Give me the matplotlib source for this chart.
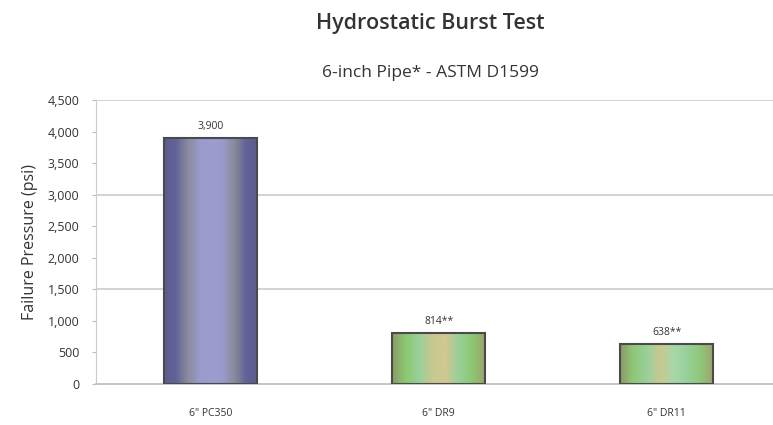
import numpy as np
import matplotlib.pyplot as plt
from matplotlib.colors import LinearSegmentedColormap

# datos del gráfico
categorias = ['6" PC350', '6" DR9', '6" DR11']
presion = [3900, 814, 638]
etiquetas = ['3,900', '814**', '638**']
ticks_y = [0, 500, 1000, 1500, 2000, 2500, 3000, 3500, 4000, 4500]
rejilla_y = [1500, 3000, 4500]

# colores tipo "cilindro" para cada barra
degradados = [
    ['#5c5c90', '#62629a', '#8a8a9a', '#9a9acc', '#9c9cce', '#9a9acc', '#8a8a9a', '#62629a', '#5c5c90'],
    ['#8a9a66', '#8cc870', '#98d09a', '#c8c890', '#d0c890', '#98d09a', '#8cc870', '#a0a070'],
    ['#8a9a66', '#90c878', '#98d09a', '#c8c890', '#a8d8a8', '#98d09a', '#90c878', '#a0a070'],
]

plt.rcParams['font.family'] = ['Open Sans', 'DejaVu Sans']

fig = plt.figure(figsize=(7.73, 4.25), dpi=100)
ax = fig.add_axes([0.124, 0.0965, 0.886, 0.668])

x = np.arange(len(categorias))
ancho = 0.41
barras = ax.bar(x, presion, width=ancho, color='none', edgecolor='#4a4a4a',
                linewidth=1.5, zorder=3)

for b, cols in zip(barras, degradados):
    cmap = LinearSegmentedColormap.from_list('c', cols)
    grad = np.linspace(0, 1, 256).reshape(1, -1)
    x0, y0 = b.get_x(), b.get_y()
    im = ax.imshow(grad, cmap=cmap, aspect='auto', zorder=2,
                   extent=[x0, x0 + b.get_width(), y0, y0 + b.get_height()])
    im.set_clip_path(b)

for xi, v, t in zip(x, presion, etiquetas):
    ax.text(xi, v + 90, t, ha='center', va='bottom', fontsize=7.5, color='#333333')

ax.set_xlim(-0.504, 2.5)
ax.set_ylim(0, 4500)
ax.set_yticks(ticks_y)
ax.set_yticklabels([f'{t:,}' for t in ticks_y], fontsize=9, color='#333333')
ax.set_xticks(x)
ax.set_xticklabels(categorias, fontsize=7.5, color='#333333')
ax.tick_params(axis='x', length=0, pad=17)
ax.tick_params(axis='y', length=3, color='#bbbbbb', pad=9)

for g in rejilla_y:
    ax.axhline(g, color='#cccccc', linewidth=1.2, zorder=1)

for s in ['top', 'right']:
    ax.spines[s].set_visible(False)
ax.spines['left'].set_color('#cccccc')
ax.spines['bottom'].set_color('#bbbbbb')
ax.spines['bottom'].set_linewidth(1.2)

ax.set_ylabel('Failure Pressure (psi)', fontsize=11.5, color='#333333', labelpad=7)

fig.text(0.557, 0.945, 'Hydrostatic Burst Test', ha='center', va='center',
         fontsize=15.5, fontweight='semibold', color='#333333')
fig.text(0.557, 0.828, '6-inch Pipe* - ASTM D1599', ha='center', va='center',
         fontsize=12.5, fontweight='medium', color='#333333')

fig.savefig('out.png', dpi=100)
